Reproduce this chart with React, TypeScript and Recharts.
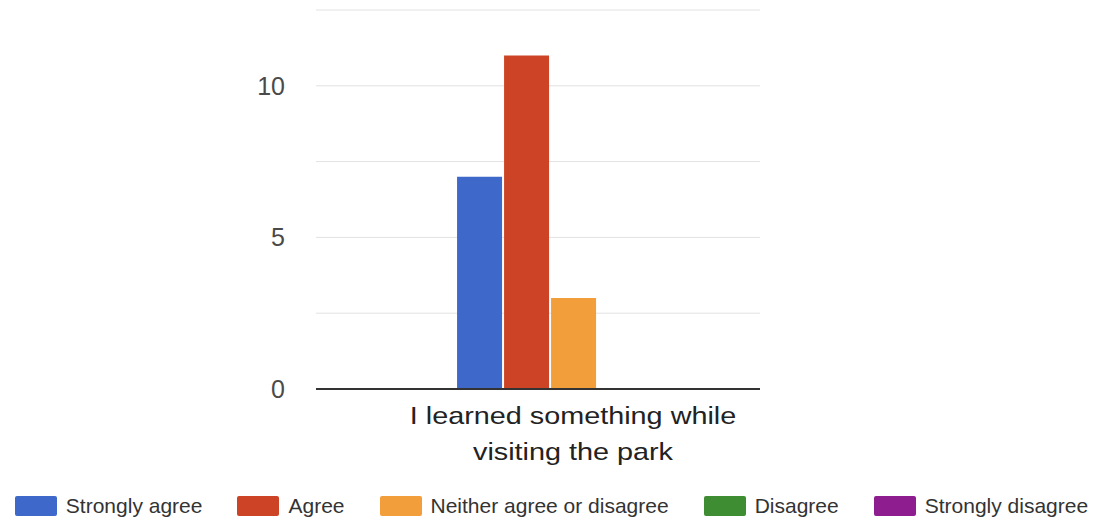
import React from "react";
import { BarChart, Bar, XAxis, YAxis, CartesianGrid, Legend } from "recharts";

const questions = ["I learned something while visiting the park"];
const seriesNames = [
  "Strongly agree",
  "Agree",
  "Neither agree or disagree",
  "Disagree",
  "Strongly disagree",
];
const seriesColors = ["#3e68c9", "#cc4425", "#f29e3a", "#3f8d32", "#8e1e8f"];
const stronglyAgree = [7];
const agree = [11];
const neither = [3];
const disagree = [0];
const stronglyDisagree = [0];
const yTicks = [0, 2.5, 5, 7.5, 10, 12.5];
const yLabels = [0, 5, 10];

const seriesValues = [stronglyAgree, agree, neither, disagree, stronglyDisagree];

const data = questions.map((q, i) => {
  const row: Record<string, string | number> = { question: q };
  seriesNames.forEach((name, s) => {
    row[name] = seriesValues[s][i];
  });
  return row;
});

const font = "'Liberation Sans', Arial, Helvetica, sans-serif";

// split a long category label into lines of roughly maxChars
function wrap(label: string, maxChars: number) {
  const lines: string[] = [];
  let cur = "";
  label.split(" ").forEach((w) => {
    const next = cur ? cur + " " + w : w;
    if (next.length > maxChars && cur) {
      lines.push(cur);
      cur = w;
    } else {
      cur = next;
    }
  });
  if (cur) lines.push(cur);
  return lines;
}

function QuestionTick(props: any) {
  const { x, y, payload } = props;
  const lines = wrap(payload.value, 26);
  return (
    <g transform={`translate(${x},${y}) scale(1.2,1)`}>
      <text
        textAnchor="middle"
        fill="#222"
        fontSize={24}
        fontFamily={font}
      >
        {lines.map((l, i) => (
          <tspan key={i} x={0} y={35 + i * 36}>
            {l}
          </tspan>
        ))}
      </text>
    </g>
  );
}

function LegendBoxes(props: any) {
  // keep the series order, not the alphabetical one
  const payload = [...(props.payload || [])].sort(
    (a: any, b: any) => seriesNames.indexOf(a.value) - seriesNames.indexOf(b.value)
  );
  return (
    <div
      style={{
        display: "flex",
        justifyContent: "center",
        alignItems: "center",
        fontFamily: font,
        fontSize: 21,
        color: "#333",
        height: 30,
        whiteSpace: "nowrap",
      }}
    >
      {payload.map((p: any, i: number) => (
        <div
          key={p.value}
          style={{
            display: "flex",
            alignItems: "center",
            marginLeft: i === 0 ? 0 : 35,
          }}
        >
          <span
            style={{
              display: "inline-block",
              width: 42,
              height: 20,
              background: p.color,
              borderRadius: 2,
              marginRight: 9,
            }}
          />
          <span>{p.value}</span>
        </div>
      ))}
    </div>
  );
}

export default function App() {
  return (
    <div style={{ position: "absolute", left: 0, top: 0, background: "#fff" }}>
      <BarChart
        width={1103}
        height={521}
        data={data}
        margin={{ top: 10, right: 343, left: 0, bottom: 0 }}
        barCategoryGap="19%"
        barGap={2}
      >
        <CartesianGrid vertical={false} stroke="#e2e2e2" />
        <XAxis
          dataKey="question"
          padding={{ left: 70, right: 0 }}
          axisLine={{ stroke: "#333", strokeWidth: 2 }}
          tickLine={false}
          tickSize={0}
          tickMargin={0}
          height={102}
          tick={<QuestionTick />}
          interval={0}
        />
        <YAxis
          width={316}
          domain={[0, 12.5]}
          ticks={yTicks}
          interval={0}
          axisLine={false}
          tickLine={false}
          tickSize={0}
          tickMargin={31}
          tickFormatter={(v: number) => (yLabels.includes(v) ? String(v) : "")}
          tick={{ fill: "#4a4a4a", fontSize: 25, fontFamily: font }}
        />
        <Legend
          verticalAlign="bottom"
          height={30}
          wrapperStyle={{ left: 0, width: 1103 }}
          content={<LegendBoxes />}
        />
        {seriesNames.map((name, i) => (
          <Bar
            key={name}
            dataKey={name}
            name={name}
            fill={seriesColors[i]}
            isAnimationActive={false}
          />
        ))}
      </BarChart>
    </div>
  );
}
